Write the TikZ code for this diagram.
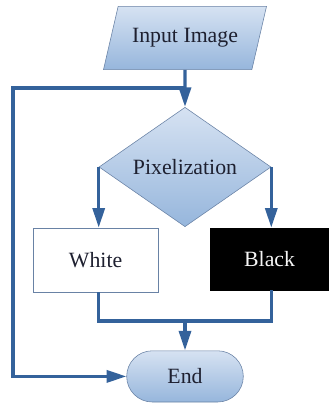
\documentclass[tikz,border=0pt]{standalone}
\usepackage{fontspec}
\setmainfont{Liberation Serif}
\usepackage{tikz}
\usetikzlibrary{positioning,arrows.meta,shapes.geometric,shapes.misc}
\definecolor{line}  {RGB}{ 52, 98,155}
\definecolor{edge}  {RGB}{105,130,165}
\definecolor{light} {RGB}{214,226,242}
\definecolor{deep}  {RGB}{150,182,220}
\definecolor{ink}   {RGB}{ 30, 32, 48}

\begin{document}
\begin{tikzpicture}[every node/.style={font=\fontsize{15.5}{18}\selectfont,text=ink},
    blue/.style={draw=edge,thin,top color=light,bottom color=deep},
    flow/.style={draw=line,line width=2.4pt,-{Triangle[length=14pt,width=8.5pt]}},
    plain/.style={draw=line,line width=2.4pt}]

    \useasboundingbox (0,0) rectangle (8.225,-10.125);

    \node[blue,trapezium,trapezium left angle=66,trapezium right angle=114,
          trapezium stretches=true,minimum width=4.08cm,minimum height=1.58cm] (inp) at(4.625,-0.95) {Input Image};
    \node[blue,diamond,minimum width=4.3cm,minimum height=2.18cm,inner sep=0pt] (pix) at(4.625,-4.175) {Pixelization};
    \node[draw=edge,thin,fill=white,minimum width=3.125cm,minimum height=1.6cm] (wht) at(2.39,-6.5) {White};
    \node[draw=black,fill=black,text=white!92!gray,minimum width=2.98cm,minimum height=1.55cm] (blk) at(6.74,-6.475) {Black};
    \node[blue,rounded rectangle,minimum width=3.15cm,minimum height=1.28cm] (end) at(4.625,-9.41) {End};

    \coordinate (top) at(4.625,-2.2);
    \coordinate (low) at(4.625,-8.025);

    \draw[plain] (inp.south) -- (top);
    \draw[flow] (top) -- (pix.north);
    \draw[flow] (top) -- (0.325,-2.2) |- (end.west);

    \draw[flow] (pix.west) -- (pix.west |- wht.north);
    \draw[flow] (pix.east) -- (pix.east |- blk.north);

    \draw[plain] (pix.west |- wht.south) |- (low) -| (pix.east |- blk.south);
    \draw[flow] (low) -- (end.north);

\end{tikzpicture}
\end{document}
